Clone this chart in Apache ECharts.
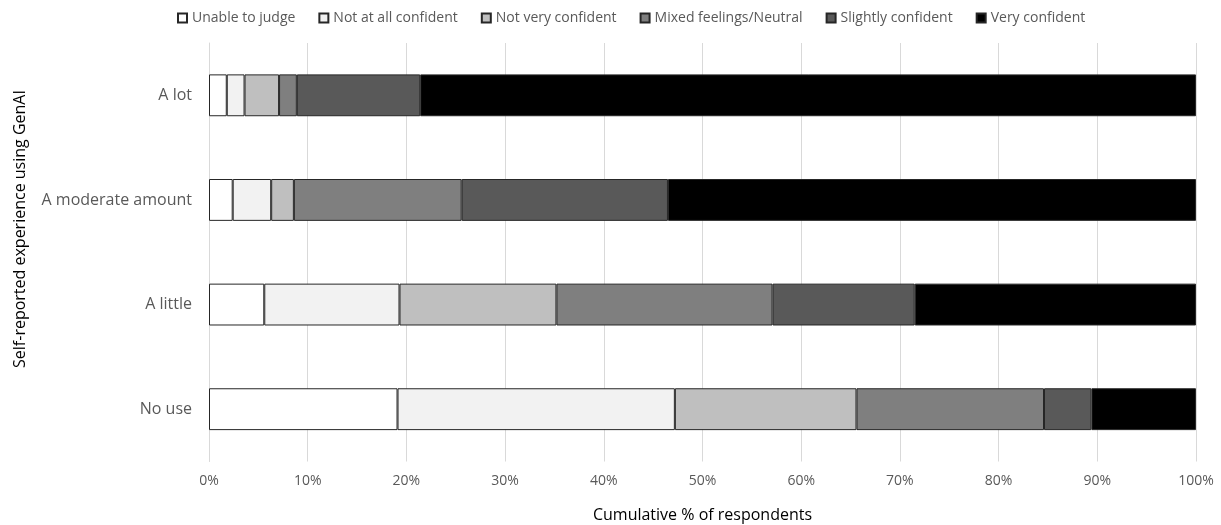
<!DOCTYPE html>
<html>
<head>
<meta charset="utf-8">
<script src="https://cdn.jsdelivr.net/npm/echarts@6/dist/echarts.min.js"></script>
<style>
html,body{margin:0;padding:0;background:#fff;}
#chart{width:1221px;height:525px;}
</style>
</head>
<body>
<div id="chart"></div>
<script>
const categories = ['A lot', 'A moderate amount', 'A little', 'No use'];
const seriesNames = ['Unable to judge', 'Not at all confident', 'Not very confident', 'Mixed feelings/Neutral', 'Slightly confident', 'Very confident'];
const unableToJudge      = [1.8, 2.4, 5.6, 19.1];
const notAtAllConfident  = [1.8, 3.9, 13.7, 28.1];
const notVeryConfident   = [3.5, 2.3, 15.9, 18.4];
const mixedNeutral       = [1.8, 17.0, 21.9, 19.0];
const slightlyConfident  = [12.5, 20.9, 14.4, 4.8];
const veryConfident      = [78.6, 53.5, 28.5, 10.6];
const xTicks = [0, 10, 20, 30, 40, 50, 60, 70, 80, 90, 100];
const colors = ['#ffffff', '#f2f2f2', '#bfbfbf', '#7f7f7f', '#595959', '#000000'];

const values = [unableToJudge, notAtAllConfident, notVeryConfident, mixedNeutral, slightlyConfident, veryConfident];
const FONT = '"Open Sans", sans-serif';

const chart = echarts.init(document.getElementById('chart'), null, {renderer: 'canvas'});
chart.setOption({
  animation: false,
  backgroundColor: '#ffffff',
  textStyle: {fontFamily: FONT},
  legend: {
    data: seriesNames,
    icon: 'rect',
    left: 177,
    top: 11,
    padding: 0,
    itemWidth: 9,
    itemHeight: 9,
    itemGap: 23,
    textStyle: {color: '#595959', fontSize: 14, fontFamily: FONT}
  },
  grid: {left: 209, right: 25, top: 43, bottom: 63.5, containLabel: false, outerBoundsMode: 'none'},
  xAxis: {
    type: 'value',
    min: xTicks[0],
    max: xTicks[xTicks.length - 1],
    interval: 10,
    axisLine: {show: false},
    axisTick: {show: false},
    splitLine: {show: true, lineStyle: {color: '#d9d9d9', width: 1}},
    axisLabel: {formatter: '{value}%', color: '#595959', fontSize: 14, margin: 13, fontFamily: FONT},
    name: 'Cumulative % of respondents',
    nameLocation: 'middle',
    nameGap: 46,
    nameTextStyle: {color: '#000000', fontSize: 16, fontFamily: FONT}
  },
  yAxis: {
    type: 'category',
    data: categories,
    inverse: true,
    axisLine: {show: true, lineStyle: {color: '#d9d9d9', width: 1}},
    axisTick: {show: false},
    axisLabel: {color: '#595959', fontSize: 16, margin: 17, fontFamily: FONT}
  },
  graphic: [{
    type: 'text',
    x: 20,
    y: 229,
    rotation: Math.PI / 2,
    style: {
      text: 'Self-reported experience using GenAI',
      fill: '#000000',
      font: '16px ' + FONT,
      align: 'center',
      verticalAlign: 'middle'
    }
  }],
  series: seriesNames.map((name, i) => ({
    name: name,
    type: 'bar',
    stack: 'total',
    barWidth: '40%',
    data: values[i],
    itemStyle: {color: colors[i], borderColor: '#262626', borderWidth: 1}
  }))
});
</script>
</body>
</html>
